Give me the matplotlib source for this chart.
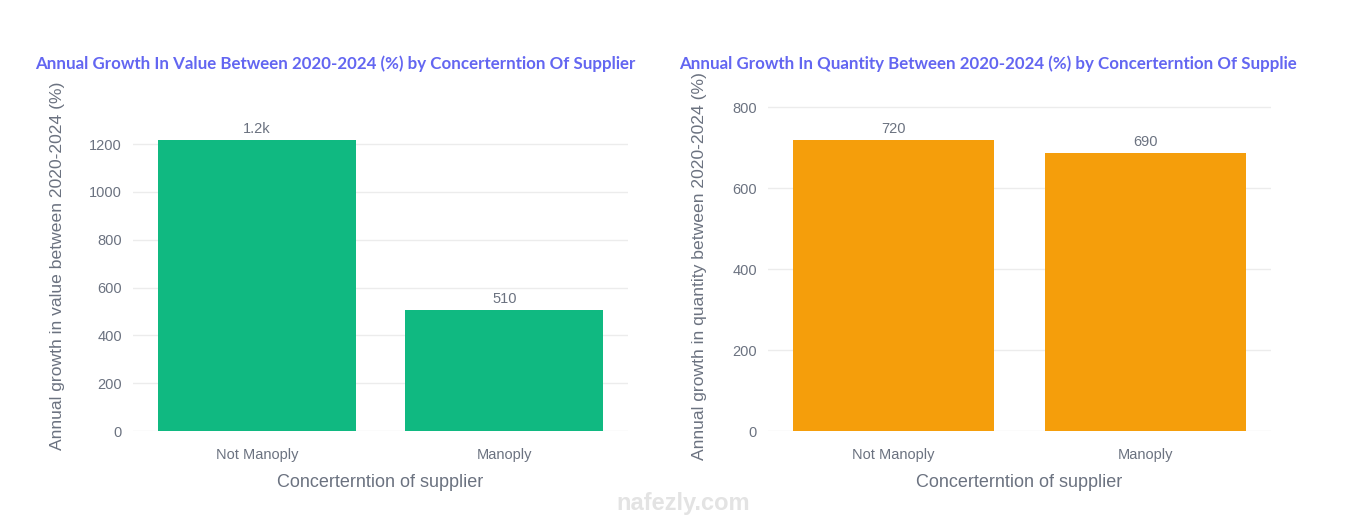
import numpy as np
import matplotlib.pyplot as plt

# data
categories = ["Not Manoply", "Manoply"]
value_growth = [1218, 508]
quantity_growth = [720, 688]

value_ticks = [0, 200, 400, 600, 800, 1000, 1200]
quantity_ticks = [0, 200, 400, 600, 800]

titles = ["Annual Growth In Value Between 2020-2024 (%) by Concerterntion Of Supplier",
          "Annual Growth In Quantity Between 2020-2024 (%) by Concerterntion Of Supplie"]
ylabels = ["Annual growth in value between 2020-2024 (%)",
           "Annual growth in quantity between 2020-2024 (%)"]
xlabel = "Concerterntion of supplier"

plt.rcParams['font.family'] = ['Liberation Sans', 'DejaVu Sans']
grey = '#6b7280'
title_color = '#6366f1'


def short_fmt(v):
    # plotly-like 2 significant digit labels
    if v >= 1000:
        return f"{v / 1000:.1f}k"
    return f"{int(float(f'{v:.2g}'))}"


fig = plt.figure(figsize=(13.67, 5.28), dpi=100)
ax1 = fig.add_axes([0.0973, 0.1837, 0.3621, 0.627])
ax2 = fig.add_axes([0.5618, 0.1837, 0.368, 0.627])

panels = [
    (ax1, value_growth, value_ticks, (0, 1385), '#10b981', 0.0256, 0.042),
    (ax2, quantity_growth, quantity_ticks, (0, 818), '#f59e0b', 0.4967, 0.512),
]

for i, (ax, vals, ticks, ylim, color, tx, ylx) in enumerate(panels):
    x = np.arange(len(categories))
    ax.bar(x, vals, width=0.8, color=color, zorder=2)
    for xi, v in zip(x, vals):
        ax.text(xi, v + (ylim[1] * 0.012), short_fmt(v), ha='center', va='bottom',
                fontsize=10.5, color=grey)
    ax.set_xlim(-0.5, 1.5)
    ax.set_ylim(*ylim)
    ax.set_xticks(x)
    ax.set_xticklabels(categories, fontsize=10.5, color=grey)
    ax.set_yticks(ticks)
    ax.set_yticklabels([str(t) for t in ticks], fontsize=10.5, color=grey)
    ax.tick_params(length=0, pad=8)
    ax.tick_params(axis='x', pad=12)
    ax.grid(axis='y', color='#ececec', linewidth=1, zorder=0)
    for s in ax.spines.values():
        s.set_visible(False)
    ax.set_xlabel(xlabel, fontsize=13, color=grey, labelpad=9)
    fig.text(ylx, 0.497, ylabels[i], rotation=90, ha='center', va='center',
             fontsize=12.6, color=grey)
    fig.text(tx, 0.88, titles[i], ha='left', va='center', fontsize=12.2,
             fontweight='bold', color=title_color, family=['Lato', 'DejaVu Sans'])

# faint watermark
fig.text(0.5, 0.025, "nafezly.com", ha='center', va='bottom', fontsize=17,
         color='#e3e3e3', fontweight='bold', zorder=0)

fig.savefig("out.png", dpi=100)
